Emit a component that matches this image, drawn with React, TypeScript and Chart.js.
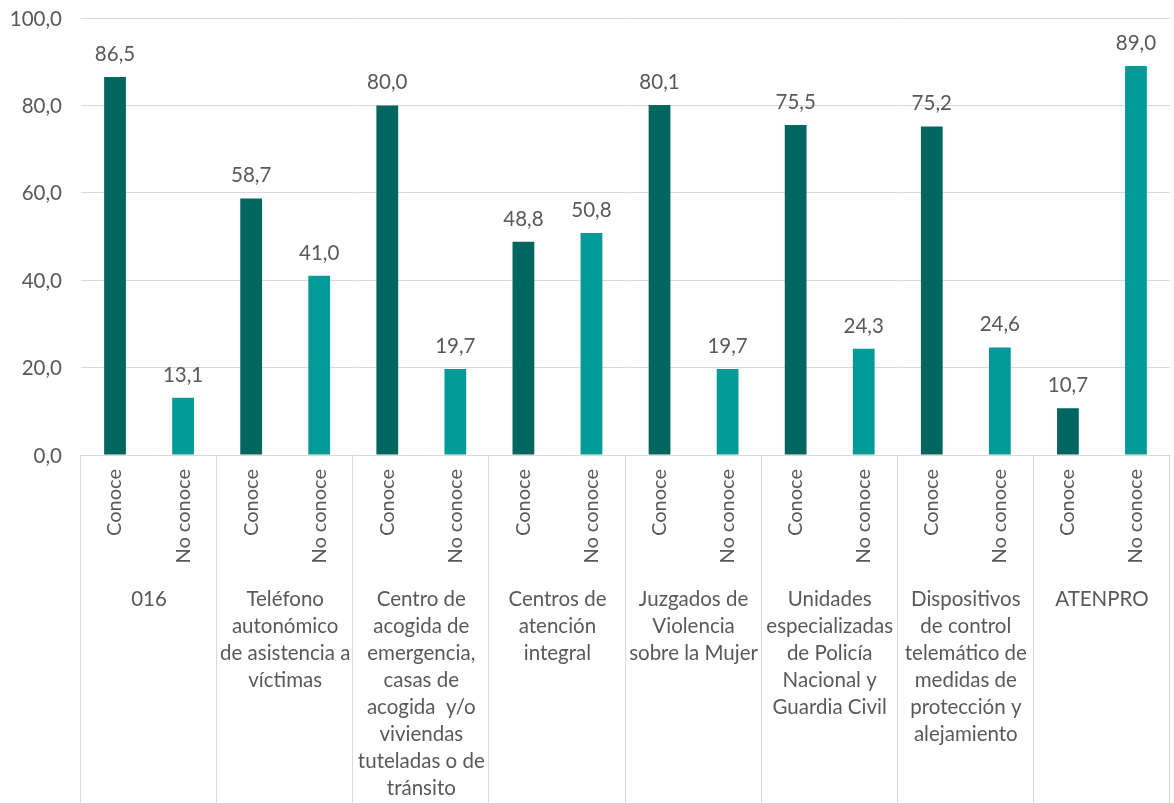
import React, { useEffect, useRef } from "react";
import { Chart, registerables } from "chart.js";

Chart.register(...registerables);

const subLabels = ["Conoce", "No conoce"];
const groups: string[][] = [
  ["016"],
  ["Teléfono", "autonómico", "de asistencia a", "víctimas"],
  ["Centro de", "acogida de", "emergencia,", "casas de", "acogida  y/o", "viviendas", "tuteladas o de", "tránsito"],
  ["Centros de", "atención", "integral"],
  ["Juzgados de", "Violencia", "sobre la Mujer"],
  ["Unidades", "especializadas", "de Policía", "Nacional y", "Guardia Civil"],
  ["Dispositivos", "de control", "telemático de", "medidas de", "protección y", "alejamiento"],
  ["ATENPRO"],
];
const conoce = [86.5, 58.7, 80.0, 48.8, 80.1, 75.5, 75.2, 10.7];
const noConoce = [13.1, 41.0, 19.7, 50.8, 19.7, 24.3, 24.6, 89.0];
const yTicks = [0, 20, 40, 60, 80, 100];

const DARK = "#00665F";
const LIGHT = "#009A97";
const TEXT = "#595959";
const GRID = "#D9D9D9";
const FONT = "Lato";
const FS = 20.5;

const fmt = (v: number) => v.toFixed(1).replace(".", ",");

export default function App() {
  const ref = useRef<HTMLCanvasElement>(null);
  useEffect(() => {
    document.body.style.margin = "0";
    const labels: string[] = [];
    const values: number[] = [];
    const colors: string[] = [];
    groups.forEach((_, i) => {
      labels.push(subLabels[0]);
      values.push(conoce[i]);
      colors.push(DARK);
      labels.push(subLabels[1]);
      values.push(noConoce[i]);
      colors.push(LIGHT);
    });

    const overlay = {
      id: "overlay",
      afterDraw(chart: any) {
        const ctx = chart.ctx;
        const area = chart.chartArea;
        const ys = chart.scales.y;
        ctx.save();
        ctx.strokeStyle = GRID;
        ctx.lineWidth = 1;
        const gw = (area.right - area.left) / groups.length;
        for (let i = 0; i <= groups.length; i++) {
          const x = Math.round(area.left + i * gw) - 0.5;
          ctx.beginPath();
          ctx.moveTo(x, area.bottom);
          ctx.lineTo(x, chart.height);
          ctx.stroke();
        }
        ctx.fillStyle = TEXT;
        ctx.font = `${FS}px ${FONT}`;
        // y tick labels
        ctx.textAlign = "right";
        ctx.textBaseline = "middle";
        yTicks.forEach((v) => {
          ctx.fillText(fmt(v), area.left - 19, ys.getPixelForValue(v) + 1);
        });
        // group labels
        ctx.textAlign = "center";
        ctx.textBaseline = "alphabetic";
        groups.forEach((lines, i) => {
          const cx = area.left + (i + 0.5) * gw;
          lines.forEach((ln, j) => {
            ctx.fillText(ln, cx, 606 + j * 27);
          });
        });
        // data labels
        const meta = chart.getDatasetMeta(0);
        meta.data.forEach((bar: any, i: number) => {
          ctx.fillText(fmt(values[i]), bar.x, bar.y - 16);
        });
        ctx.restore();
      },
    };

    const chart = new Chart(ref.current!, {
      type: "bar",
      data: {
        labels,
        datasets: [
          {
            data: values,
            backgroundColor: colors,
            categoryPercentage: 1,
            barPercentage: 0.32,
          },
        ],
      },
      options: {
        responsive: false,
        animation: false,
        devicePixelRatio: 1,
        layout: { padding: { top: 18, right: 1, left: 0, bottom: 0 } },
        plugins: { legend: { display: false }, tooltip: { enabled: false } },
        scales: {
          x: {
            afterFit: (s: any) => {
              s.height = 348;
            },
            grid: { display: false, drawTicks: false },
            border: { display: true, color: GRID },
            ticks: {
              autoSkip: false,
              minRotation: 90,
              maxRotation: 90,
              padding: 14,
              color: TEXT,
              font: { family: FONT, size: 20 },
            },
          },
          y: {
            min: 0,
            max: 100,
            afterFit: (s: any) => {
              s.width = 81;
            },
            afterBuildTicks: (s: any) => {
              s.ticks = yTicks.map((v) => ({ value: v }));
            },
            grid: { color: GRID, drawTicks: false },
            border: { display: false },
            ticks: { display: false },
          },
        },
      },
      plugins: [overlay],
    });
    return () => chart.destroy();
  }, []);
  return (
    <canvas
      ref={ref}
      width={1174}
      height={803}
      style={{ position: "absolute", left: 0, top: 0, width: 1174, height: 803 }}
    />
  );
}
